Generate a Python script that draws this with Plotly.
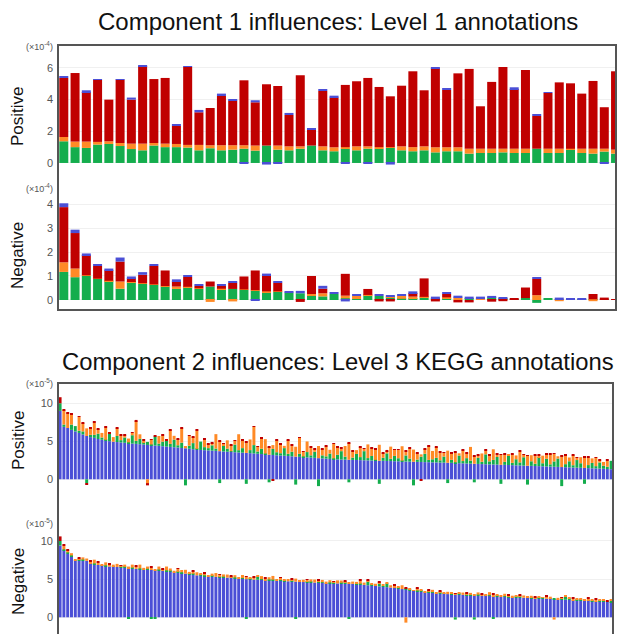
import plotly.graph_objects as go

OFF = 0
W, H = 619, 634

# ---------------- Component 1 (50 Level-1 annotations) ----------------
cats1 = list(range(1, 51))
# Positive influences (x1e-4), stacked segments
c1p_green = [1.37, 1.0, 0.95, 1.16, 1.2, 1.07, 0.88, 0.8, 1.1, 1.0,
             1.0, 0.97, 0.8, 0.93, 0.8, 0.84, 0.9, 0.78, 1.1, 0.84,
             0.8, 0.9, 1.1, 0.8, 0.74, 0.9, 0.8, 0.9, 0.9, 0.95,
             0.8, 0.74, 0.8, 0.67, 0.74, 0.74, 0.59, 0.63, 0.63, 0.67,
             0.63, 0.63, 0.9, 0.63, 0.63, 0.84, 0.63, 0.59, 0.72, 0.59]
c1p_orange = [0.27, 0.35, 0.4, 0.17, 0.17, 0.19, 0.34, 0.42, 0.16, 0.22,
              0.2, 0.17, 0.34, 0.19, 0.32, 0.28, 0.22, 0.32, 0.0, 0.26,
              0.25, 0.15, 0.0, 0.25, 0.25, 0.1, 0.25, 0.15, 0.1, 0.05,
              0.25, 0.26, 0.25, 0.32, 0.25, 0.25, 0.31, 0.27, 0.27, 0.23,
              0.27, 0.27, 0.0, 0.27, 0.27, 0.06, 0.27, 0.31, 0.18, 0.25]
c1p_red = [3.73, 4.33, 3.13, 3.93, 2.63, 4.0, 2.78, 4.9, 4.04, 4.15,
           1.14, 4.93, 2.06, 2.35, 3.11, 2.82, 4.1, 2.73, 3.87, 3.76,
           1.98, 4.49, 1.03, 3.5, 3.14, 3.93, 4.11, 4.32, 3.8, 3.21,
           3.83, 4.79, 3.54, 4.99, 3.62, 4.67, 5.04, 2.68, 4.22, 5.16,
           3.77, 4.97, 2.07, 3.52, 4.19, 4.13, 3.48, 4.28, 2.62, 4.95]
c1p_blue = [0.1, 0.0, 0.11, 0.02, 0.0, 0.04, 0.13, 0.05, 0.0, 0.0,
            0.08, 0.03, 0.15, 0.0, 0.15, 0.1, -0.04, 0.13, -0.1, -0.05,
            0.13, 0.0, 0.06, 0.08, 0.12, -0.05, 0.0, -0.03, 0.0, -0.1,
            0.0, 0.0, 0.0, 0.08, 0.08, 0.0, 0.0, 0.0, 0.0, 0.0,
            0.11, 0.0, 0.06, 0.06, 0.0, 0.0, 0.0, 0.0, -0.05, 0.0]
# Negative influences (x1e-4)
c1n_green = [1.17, 0.95, 1.0, 0.88, 0.79, 0.47, 0.74, 0.67, 0.63, 0.56,
             0.46, 0.53, 0.46, 0.56, 0.45, 0.46, 0.42, 0.39, 0.33, 0.35,
             0.31, 0.28, 0.17, 0.15, 0.25, 0.07, 0.04, 0.2, 0.17, 0.12,
             0.05, 0.07, 0.11, 0.07, 0.05, 0.0, 0.07, 0.0, 0.11, 0.07,
             0.04, 0.08, -0.12, 0.08, 0.04, 0.03, 0.02, 0.03, 0.02, 0.0]
c1n_orange = [0.4, 0.36, 0.03, 0.01, 0.01, 0.3, 0.01, 0.03, 0.02, 0.02,
              0.1, 0.02, 0.03, -0.08, 0.02, -0.06, 0.02, 0.02, 0.03, 0.01,
              0.0, 0.0, 0.08, 0.13, 0.0, 0.11, 0.13, 0.01, 0.0, 0.02,
              0.12, 0.07, 0.02, 0.0, 0.06, 0.11, 0.0, 0.08, 0.0, 0.0,
              0.0, 0.0, 0.2, 0.0, -0.05, 0.0, 0.0, -0.05, 0.0, 0.0]
c1n_red = [2.3, 1.48, 0.84, 0.53, 0.44, 0.83, 0.16, 0.35, 0.77, 0.65,
           0.22, 0.41, 0.1, 0.21, 0.12, 0.26, 0.54, 0.82, 0.66, 0.36,
           0.0, -0.08, 0.75, 0.19, 0.0, 0.91, 0.0, 0.25, -0.06, -0.06,
           0.0, 0.15, 0.77, -0.06, 0.14, -0.1, -0.1, 0.0, -0.07, -0.05,
           0.03, 0.44, 0.68, 0.0, 0.0, 0.0, 0.0, 0.22, 0.08, 0.02]
c1n_blue = [0.16, 0.14, 0.07, 0.07, 0.07, 0.17, 0.07, 0.11, 0.07, 0.0,
            0.08, 0.07, 0.07, 0.0, 0.05, 0.07, 0.0, -0.03, 0.08, 0.07,
            0.04, 0.1, 0.0, 0.12, 0.06, -0.06, 0.08, 0.0, 0.05, 0.06,
            0.05, 0.07, 0.0, 0.07, 0.06, 0.07, 0.07, 0.06, 0.06, 0.03,
            0.0, 0.0, 0.07, 0.0, 0.06, 0.05, 0.05, 0.0, 0.0, 0.0]

# ---------------- Component 2 (146 Level-3 KEGG annotations) ----------------
cats2 = list(range(1, 147))
# Positive influences (x1e-5)
c2p_blue = [9.0, 6.9, 6.75, 6.5, 6.3, 6.1, 5.9, 5.7, 5.55, 5.45,
            5.3, 5.2, 5.1, 5.02, 4.95, 4.9, 4.85, 4.8, 4.76, 4.7,
            4.66, 4.62, 4.58, 4.52, 4.48, 4.44, 4.4, 4.35, 4.3, 4.26,
            4.22, 4.18, 4.12, 4.08, 4.02, 3.96, 3.9, 3.86, 3.83, 3.8,
            3.77, 3.74, 3.7, 3.66, 3.63, 3.6, 3.56, 3.53, 3.5, 3.47,
            3.44, 3.4, 3.36, 3.32, 3.28, 3.24, 3.2, 3.16, 3.13, 3.1,
            3.06, 3.02, 2.98, 2.95, 2.91, 2.88, 2.85, 2.82, 2.78, 2.75,
            2.72, 2.68, 2.65, 2.62, 2.6, 2.58, 2.57, 2.55, 2.54, 2.52,
            2.5, 2.49, 2.47, 2.46, 2.44, 2.43, 2.41, 2.4, 2.38, 2.37,
            2.35, 2.34, 2.32, 2.31, 2.29, 2.28, 2.26, 2.25, 2.23, 2.22,
            2.2, 2.19, 2.17, 2.16, 2.14, 2.12, 2.1, 2.08, 2.06, 2.04,
            2.02, 2.0, 1.98, 1.96, 1.95, 1.93, 1.91, 1.9, 1.88, 1.86,
            1.84, 1.82, 1.8, 1.78, 1.77, 1.75, 1.73, 1.71, 1.69, 1.67,
            1.65, 1.63, 1.61, 1.59, 1.57, 1.55, 1.53, 1.51, 1.49, 1.47,
            1.45, 1.43, 1.41, 1.38, 1.35, 1.33]
c2p_green = [1.0, 0.3, 0.0, 0.7, 0.7, 0.3, 0.4, -0.5, 0.3, 0.4,
             0.7, 0.3, 0.1, 1.0, 0.0, 0.8, 0.3, 0.7, 0.1, 1.1,
             0.4, 0.7, 0.3, 0.4, 0.1, 1.2, 0.3, 0.6, 0.8, 0.4,
             1.0, 0.3, 0.7, -0.8, 0.4, 0.8, 0.1, 1.1, 0.4, 0.3,
             0.7, 0.3, -0.5, 0.8, 0.4, 0.1, 1.0, 0.3, 0.6, -0.6,
             0.4, 1.1, 0.3, 0.7, 0.1, -0.4, 0.8, 0.4, 0.3, 1.0,
             0.3, 0.6, -0.7, 0.4, 0.1, 0.7, 0.3, 0.8, -0.9, 0.4,
             0.3, 0.7, 0.1, 0.6, 1.1, 0.4, -0.4, 0.3, 0.8, 0.4,
             1.2, 0.3, 0.6, 0.1, -0.6, 0.4, 1.0, 0.3, 0.7, 0.4,
             0.1, 0.8, 0.4, -0.8, 0.3, 0.7, 1.1, 0.3, 0.4, 0.6,
             0.3, 0.8, -0.5, 0.4, 0.1, 1.0, 0.3, 0.7, 0.4, -0.4,
             0.8, 0.3, 1.3, 0.4, 0.6, 1.0, -0.6, 0.4, 1.2, 0.3,
             0.8, 0.4, 1.1, -0.7, 0.6, 0.3, 1.2, 0.4, 1.0, 0.3,
             0.7, 1.1, -0.9, 0.4, 0.8, 0.3, 1.0, 0.6, -0.6, 0.4,
             0.7, 0.3, 0.8, 0.4, 0.3, 1.1]
c2p_orange = [0.0, 1.9, 1.9, 1.3, 0.0, 1.8, 1.1, 1.0, 0.8, 1.6,
              0.6, 0.6, 1.6, 0.0, 0.6, 1.0, 0.6, 0.3, 0.5, 0.3,
              2.6, 0.6, 0.2, -0.5, 0.6, 0.0, 1.0, 0.8, 0.0, 1.8,
              0.5, 0.8, 1.9, 0.3, 1.3, 0.8, 2.4, 0.0, 1.0, 0.5,
              0.3, 1.9, 1.3, 0.2, 1.1, 0.8, 0.5, 2.1, 1.0, 1.4,
              1.4, 2.4, 0.6, 1.3, 1.9, 1.0, 0.5, 1.6, 1.1, 0.3,
              1.8, 0.8, 1.3, 2.1, 0.6, 1.4, 1.0, 0.3, 1.6, 0.8,
              1.3, 0.5, 1.9, 1.0, 0.3, 1.4, 2.2, 0.8, 0.5, 1.3,
              0.3, 1.8, 1.0, 1.4, 2.1, 0.6, 0.3, 1.6, 0.8, 1.1,
              1.9, 0.5, 1.3, 1.6, 0.8, 0.3, 0.6, 1.8, 1.1, 1.4,
              1.0, 0.5, 1.6, 0.8, 1.3, 0.3, 1.4, 0.6, 1.8, 1.0,
              0.3, 1.1, 0.5, 0.8, 1.4, 0.3, 1.3, 1.0, 0.2, 1.1,
              0.5, 1.4, 0.3, 1.3, 0.8, 1.1, 0.2, 1.0, 0.6, 1.3,
              1.0, 0.3, 1.4, 1.1, 0.5, 1.3, 0.3, 0.8, 1.4, 1.0,
              0.6, 1.1, 0.3, 0.5, 0.8, 0.0]
c2p_red = [0.8, 0.15, 0.1, 0.15, 0.0, 0.1, 0.1, -0.2, 0.1, 0.15,
           0.1, 0.0, 0.15, 0.1, 0.0, 0.1, 0.15, 0.1, 0.0, 0.1,
           0.15, 0.0, 0.1, -0.3, 0.1, 0.15, 0.0, 0.1, 0.1, 0.15,
           0.0, 0.1, 0.15, 0.0, 0.1, 0.1, 0.15, 0.0, 0.1, 0.1,
           0.15, 0.0, 0.1, 0.1, 0.0, 0.15, 0.1, 0.0, 0.1, 0.15,
           0.0, 0.1, 0.1, 0.15, 0.0, 0.1, -0.2, 0.1, 0.15, 0.0,
           0.1, 0.15, 0.0, 0.1, 0.1, 0.0, 0.15, 0.1, 0.0, 0.1,
           0.15, 0.0, 0.1, 0.1, 0.15, 0.0, 0.1, 0.1, 0.0, 0.15,
           0.1, 0.0, 0.15, 0.1, 0.0, 0.1, 0.15, 0.0, 0.1, 0.1,
           0.0, 0.15, 0.1, 0.0, 0.1, -0.2, 0.15, 0.1, 0.0, 0.1,
           0.15, 0.1, 0.0, 0.1, 0.15, 0.0, 0.1, 0.1, 0.0, 0.15,
           0.1, 0.0, 0.15, 0.1, 0.0, 0.1, 0.1, 0.15, 0.0, 0.1,
           0.0, 0.15, 0.1, 0.1, 0.0, 0.15, 0.1, 0.0, 0.1, 0.15,
           0.1, 0.0, 0.1, 0.15, 0.0, 0.1, 0.1, 0.0, 0.15, 0.1,
           0.0, 0.1, 0.15, 0.0, 0.1, 0.0]
# Negative influences (x1e-5)
c2n_blue = [9.4, 8.8, 8.3, 8.0, 7.5, 7.45, 7.45, 7.4, 7.0, 6.95,
            6.85, 6.75, 6.7, 6.65, 6.6, 6.6, 6.55, 6.5, 6.45, 6.4,
            6.35, 6.3, 6.28, 6.25, 6.2, 6.18, 6.15, 6.1, 6.05, 6.0,
            5.9, 5.85, 5.8, 5.72, 5.65, 5.6, 5.5, 5.45, 5.4, 5.35,
            5.32, 5.3, 5.26, 5.22, 5.2, 5.15, 5.12, 5.08, 5.04, 5.0,
            4.98, 4.95, 4.92, 4.9, 4.87, 4.85, 4.82, 4.8, 4.78, 4.75,
            4.72, 4.7, 4.67, 4.65, 4.62, 4.6, 4.57, 4.55, 4.52, 4.5,
            4.48, 4.46, 4.45, 4.44, 4.42, 4.41, 4.4, 4.38, 4.34, 4.3,
            4.25, 4.2, 4.15, 4.1, 4.05, 4.0, 3.95, 3.9, 3.85, 3.8,
            3.7, 3.65, 3.5, 3.45, 3.4, 3.35, 3.3, 3.25, 3.2, 3.15,
            3.1, 3.07, 3.04, 3.0, 2.98, 2.96, 2.94, 2.92, 2.9, 2.88,
            2.86, 2.84, 2.82, 2.8, 2.77, 2.74, 2.7, 2.68, 2.65, 2.63,
            2.6, 2.58, 2.56, 2.54, 2.52, 2.5, 2.48, 2.45, 2.43, 2.4,
            2.38, 2.35, 2.33, 2.3, 2.28, 2.25, 2.22, 2.2, 2.17, 2.14,
            2.12, 2.1, 2.08, 2.05, 2.02, 2.0]
c2n_green = [0.6, 0.1, 0.2, 0.1, 0.0, 0.1, 0.1, 0.0, 0.1, 0.1,
             0.0, 0.1, 0.1, 0.0, 0.1, 0.0, 0.1, 0.1, -0.2, 0.1,
             0.0, 0.1, 0.0, 0.1, -0.2, -0.2, 0.1, 0.0, 0.1, 0.1,
             0.0, 0.1, 0.1, 0.0, 0.1, 0.1, 0.0, 0.1, 0.1, 0.0,
             0.1, 0.0, 0.1, 0.1, 0.0, 0.1, 0.1, 0.0, 0.1, -0.2,
             0.1, 0.0, 0.4, 0.1, 0.0, 0.1, 0.1, 0.0, 0.1, 0.1,
             0.0, 0.1, -0.2, 0.1, 0.0, 0.1, 0.1, 0.0, 0.2, 0.1,
             0.0, 0.1, 0.1, 0.0, 0.1, 0.1, -0.2, 0.0, 0.1, 0.1,
             0.0, 0.5, 0.1, 0.0, 0.4, 0.1, 0.5, 0.0, 0.1, 0.1,
             0.0, 0.1, 0.1, 0.0, 0.1, 0.1, 0.0, 0.1, 0.1, 0.0,
             0.1, 0.1, 0.0, 0.1, -0.3, 0.1, 0.0, 0.1, 0.1, -0.3,
             0.1, 0.0, 0.1, 0.1, -0.2, 0.1, 0.0, 0.1, 0.1, 0.0,
             0.1, 0.1, 0.0, 0.1, 0.1, 0.0, 0.1, 0.1, 0.0, 0.1,
             0.1, 0.0, 0.1, 0.4, 0.2, 0.0, 0.1, 0.1, 0.0, 0.1,
             0.1, 0.0, 0.1, 0.1, 0.0, 0.2]
c2n_orange = [0.0, 0.5, 0.3, 0.3, 0.1, 0.2, 0.3, 0.3, 0.2, 0.5,
              0.3, 0.1, 0.4, 0.3, 0.2, 0.4, 0.1, 0.3, 0.2, 0.4,
              0.3, 0.5, 0.2, 0.3, 0.3, 0.1, 0.4, 0.2, 0.5, 0.3,
              0.2, 0.4, 0.3, 0.5, 0.2, 0.3, 0.4, 0.2, 0.3, 0.1,
              0.3, 0.5, 0.2, 0.3, 0.4, 0.1, 0.3, 0.2, 0.4, 0.3,
              0.2, 0.3, 0.1, 0.4, 0.2, 0.3, 0.5, 0.2, 0.3, 0.1,
              0.3, 0.2, 0.4, 0.1, 0.3, 0.2, 0.3, 0.4, 0.1, 0.3,
              0.2, 0.3, 0.1, 0.4, 0.3, 0.2, 0.1, 0.3, 0.2, 0.4,
              0.3, 0.1, 0.2, 0.3, 0.1, 0.2, 0.1, 0.3, 0.2, 0.1,
              0.5, -0.7, 0.2, 0.1, 0.3, 0.2, 0.1, 0.2, 0.3, 0.1,
              0.2, 0.1, 0.3, 0.2, 0.1, 0.2, 0.3, 0.1, 0.2, 0.1,
              0.3, 0.2, 0.1, 0.4, 0.2, 0.1, 0.2, 0.3, 0.1, 0.2,
              0.1, 0.2, 0.3, 0.1, 0.2, 0.1, 0.2, 0.1, 0.3, 0.2,
              -0.3, 0.2, 0.1, 0.1, 0.1, 0.2, 0.1, 0.2, 0.1, 0.2,
              0.1, 0.2, 0.1, 0.2, 0.1, 0.1]
c2n_red = [0.6, 0.1, 0.1, 0.0, 0.0, 0.1, 0.0, 0.0, 0.1, 0.0,
           0.1, 0.0, 0.0, 0.1, 0.0, 0.0, 0.1, 0.0, 0.0, 0.0,
           0.1, 0.0, 0.0, 0.0, 0.1, 0.0, 0.0, 0.1, 0.0, 0.0,
           0.0, 0.1, 0.0, 0.0, 0.0, 0.1, 0.0, 0.0, 0.1, 0.0,
           0.0, 0.0, 0.1, 0.0, 0.0, 0.1, 0.0, 0.0, 0.0, 0.1,
           0.0, 0.1, 0.0, 0.0, 0.1, 0.0, 0.0, 0.0, 0.1, 0.0,
           0.0, 0.1, 0.0, 0.0, 0.0, 0.1, 0.0, 0.0, 0.1, 0.0,
           0.0, 0.0, 0.1, 0.0, 0.0, 0.1, 0.0, 0.0, 0.0, 0.1,
           0.0, 0.1, 0.0, 0.0, 0.1, 0.0, 0.0, 0.0, 0.1, 0.0,
           0.0, 0.1, 0.0, 0.0, 0.1, 0.0, 0.0, 0.1, 0.0, 0.0,
           0.1, 0.0, 0.0, 0.0, 0.1, 0.0, 0.0, 0.1, 0.0, 0.0,
           0.0, 0.1, 0.0, 0.0, 0.1, 0.0, 0.0, 0.0, 0.1, 0.0,
           0.0, 0.1, 0.0, 0.0, 0.0, 0.1, 0.0, 0.0, 0.1, 0.0,
           0.0, 0.0, 0.1, 0.0, 0.0, 0.1, 0.0, 0.0, 0.0, 0.1,
           0.0, 0.1, 0.0, 0.0, 0.1, 0.0]

GREEN, ORANGE, RED, BLUE = "#14ad4d", "#ff8a26", "#c00000", "#4b4fd6"


def py(p):
    """page pixel row -> paper y"""
    return 1 - (p - OFF) / H


def px(p):
    """page pixel column -> paper x"""
    return (p - OFF) / W


fig = go.Figure()


def add_stack(cats, series, xa, ya, width):
    for vals, col in series:
        fig.add_trace(go.Bar(x=cats, y=vals, xaxis=xa, yaxis=ya, width=width,
                             marker=dict(color=col, line=dict(width=0)),
                             showlegend=False, hoverinfo="skip"))


add_stack(cats1, [(c1p_green, GREEN), (c1p_orange, ORANGE), (c1p_red, RED), (c1p_blue, BLUE)], "x", "y", 0.8)
add_stack(cats1, [(c1n_green, GREEN), (c1n_orange, ORANGE), (c1n_red, RED), (c1n_blue, BLUE)], "x", "y2", 0.8)
add_stack(cats2, [(c2p_blue, BLUE), (c2p_green, GREEN), (c2p_orange, ORANGE), (c2p_red, RED)], "x2", "y3", 0.78)
add_stack(cats2, [(c2n_blue, BLUE), (c2n_green, GREEN), (c2n_orange, ORANGE), (c2n_red, RED)], "x2", "y4", 0.78)

font = "Liberation Sans, Arial, sans-serif"
tickfont = dict(family=font, size=11, color="#555")
yax = dict(showgrid=True, gridcolor="#f0f0f0", gridwidth=1, zeroline=False,
           showline=False, ticks="", tickfont=tickfont, ticklabelstandoff=4, fixedrange=True)
xax = dict(visible=False, fixedrange=True)

fig.update_layout(
    width=W, height=H, margin=dict(l=0, r=0, t=0, b=0),
    paper_bgcolor="white", plot_bgcolor="white",
    barmode="relative",
    xaxis=dict(xax, domain=[px(58), px(616)], range=[0.485, 50.04], anchor="y2"),
    xaxis2=dict(xax, domain=[px(58), px(613)], range=[0.45, 146.5], anchor="y4"),
    yaxis=dict(yax, domain=[py(172), py(45)], range=[-0.57, 7.45], tickvals=[0, 2, 4, 6], anchor="x"),
    yaxis2=dict(yax, domain=[py(310), py(180)], range=[-0.417, 5.0], tickvals=[0, 1, 2, 3, 4], anchor="x"),
    yaxis3=dict(yax, domain=[py(490), py(383)], range=[-1.41, 12.67], tickvals=[0, 5, 10], anchor="x2"),
    yaxis4=dict(yax, domain=[0, py(500)], range=[-2.19, 15.37], tickvals=[0, 5, 10], anchor="x2"),
)

# Panel frames
fig.add_shape(type="rect", xref="paper", yref="paper", x0=px(58), x1=px(616), y0=py(310), y1=py(45),
              line=dict(color="#555", width=2), layer="above")
fig.add_shape(type="rect", xref="paper", yref="paper", x0=px(58), x1=px(613), y0=py(645), y1=py(383),
              line=dict(color="#555", width=2), layer="above")

ann = []
ann.append(dict(text="Component 1 influences: Level 1 annotations", x=px(338), y=py(21),
                font=dict(family=font, size=24, color="#111")))
ann.append(dict(text="Component 2 influences: Level 3 KEGG annotations", x=px(338), y=py(361),
                font=dict(family=font, size=23.8, color="#111")))
for label, ycen in [("Positive", 116), ("Negative", 256), ("Positive", 440), ("Negative", 582)]:
    ann.append(dict(text=label, x=px(18), y=py(ycen), textangle=-90,
                    font=dict(family=font, size=17, color="#111")))
for txt, ycen in [("(×10<sup>-4</sup>)", 46), ("(×10<sup>-4</sup>)", 188),
                  ("(×10<sup>-5</sup>)", 383), ("(×10<sup>-5</sup>)", 523)]:
    ann.append(dict(text=txt, x=px(55), y=py(ycen), xanchor="right",
                    font=dict(family=font, size=9, color="#555")))
for a in ann:
    a.setdefault("xanchor", "center")
    a.update(xref="paper", yref="paper", yanchor="middle", showarrow=False)
fig.update_layout(annotations=ann)

# remove the default page margin so the figure fills the window exactly
fig.write_html("out.html", config={"displayModeBar": False},
               post_script="document.body.style.margin='0px';document.body.style.overflow='hidden';")
